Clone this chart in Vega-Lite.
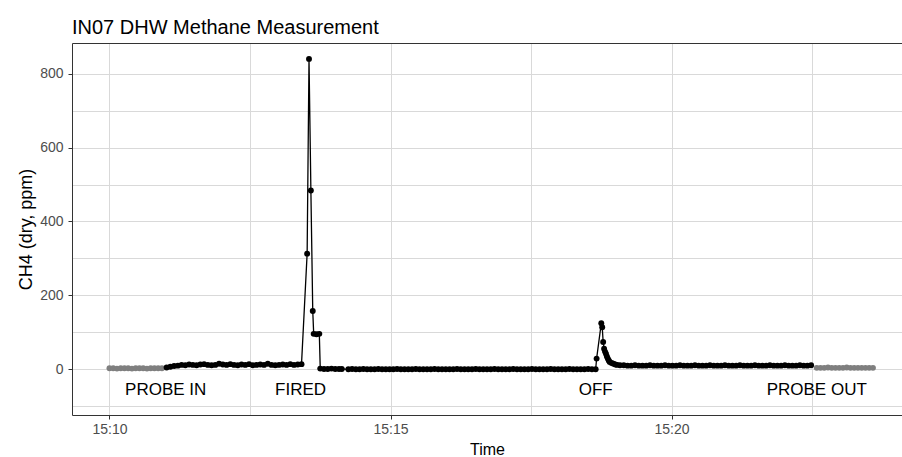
{
  "$schema": "https://vega.github.io/schema/vega-lite/v6.json",
  "width": 830,
  "height": 372,
  "autosize": {"type": "none"},
  "padding": {"left": 72, "top": 43, "right": 0, "bottom": 42},
  "background": "white",
  "view": {"stroke": null},
  "title": {"text": "IN07 DHW Methane Measurement", "anchor": "start", "frame": "group", "fontSize": 20, "fontWeight": "normal", "font": "Liberation Sans", "color": "#000000", "offset": -2},
  "config": {"view": {"stroke": null}, "font": "Liberation Sans"},
  "data": {
    "format": {"parse": {"t": "date:'%H:%M:%S'"}},
    "values": [
      {"t":"15:11:00","v":-57,"label":"PROBE IN"},
      {"t":"15:13:24","v":-57,"label":"FIRED"},
      {"t":"15:18:39","v":-57,"label":"OFF"},
      {"t":"15:22:35","v":-57,"label":"PROBE OUT"},
      {"t":"15:10:00","v":3,"s":"a"},{"t":"15:10:04","v":3,"s":"a"},{"t":"15:10:08","v":2,"s":"a"},{"t":"15:10:12","v":3,"s":"a"},{"t":"15:10:16","v":3,"s":"a"},{"t":"15:10:20","v":3,"s":"a"},{"t":"15:10:24","v":2,"s":"a"},{"t":"15:10:28","v":3,"s":"a"},{"t":"15:10:32","v":3,"s":"a"},{"t":"15:10:36","v":3,"s":"a"},{"t":"15:10:40","v":2,"s":"a"},{"t":"15:10:44","v":3,"s":"a"},{"t":"15:10:48","v":3,"s":"a"},{"t":"15:10:52","v":3,"s":"a"},{"t":"15:10:56","v":3,"s":"a"},
      {"t":"15:11:01","v":5,"s":"b"},{"t":"15:11:05","v":7,"s":"b"},{"t":"15:11:09","v":9,"s":"b"},{"t":"15:11:13","v":10,"s":"b"},{"t":"15:11:17","v":12,"s":"b"},{"t":"15:11:21","v":11,"s":"b"},{"t":"15:11:25","v":13,"s":"b"},{"t":"15:11:29","v":12,"s":"b"},{"t":"15:11:33","v":11,"s":"b"},{"t":"15:11:37","v":13,"s":"b"},{"t":"15:11:41","v":14,"s":"b"},{"t":"15:11:45","v":12,"s":"b"},{"t":"15:11:49","v":11,"s":"b"},{"t":"15:11:53","v":12,"s":"b"},{"t":"15:11:57","v":15,"s":"b"},{"t":"15:12:01","v":13,"s":"b"},{"t":"15:12:05","v":12,"s":"b"},{"t":"15:12:09","v":14,"s":"b"},{"t":"15:12:13","v":12,"s":"b"},{"t":"15:12:17","v":11,"s":"b"},{"t":"15:12:21","v":13,"s":"b"},{"t":"15:12:25","v":12,"s":"b"},{"t":"15:12:29","v":14,"s":"b"},{"t":"15:12:33","v":11,"s":"b"},{"t":"15:12:37","v":12,"s":"b"},{"t":"15:12:41","v":13,"s":"b"},{"t":"15:12:45","v":12,"s":"b"},{"t":"15:12:49","v":15,"s":"b"},{"t":"15:12:53","v":12,"s":"b"},{"t":"15:12:57","v":11,"s":"b"},{"t":"15:13:01","v":12,"s":"b"},{"t":"15:13:05","v":13,"s":"b"},{"t":"15:13:09","v":12,"s":"b"},{"t":"15:13:13","v":14,"s":"b"},{"t":"15:13:17","v":12,"s":"b"},{"t":"15:13:21","v":13,"s":"b"},{"t":"15:13:25","v":14,"s":"b"},
      {"t":"15:13:31","v":313,"s":"b"},{"t":"15:13:33","v":840,"s":"b"},{"t":"15:13:35","v":484,"s":"b"},{"t":"15:13:37","v":158,"s":"b"},{"t":"15:13:38","v":96,"s":"b"},{"t":"15:13:41","v":95,"s":"b"},{"t":"15:13:44","v":96,"s":"b"},
      {"t":"15:13:45","v":2,"s":"b"},{"t":"15:13:49","v":1,"s":"b"},{"t":"15:13:53","v":1,"s":"b"},{"t":"15:13:57","v":2,"s":"b"},{"t":"15:14:01","v":1,"s":"b"},{"t":"15:14:05","v":1,"s":"b"},{"t":"15:14:08","v":1,"s":"b"},
      {"t":"15:14:15","v":0,"s":"b"},{"t":"15:14:19","v":1,"s":"b"},{"t":"15:14:23","v":0,"s":"b"},{"t":"15:14:27","v":0,"s":"b"},{"t":"15:14:31","v":1,"s":"b"},{"t":"15:14:35","v":0,"s":"b"},{"t":"15:14:39","v":0,"s":"b"},{"t":"15:14:43","v":0,"s":"b"},{"t":"15:14:47","v":1,"s":"b"},{"t":"15:14:51","v":0,"s":"b"},{"t":"15:14:55","v":0,"s":"b"},{"t":"15:14:59","v":0,"s":"b"},
      {"t":"15:15:03","v":0,"s":"b"},{"t":"15:15:07","v":1,"s":"b"},{"t":"15:15:11","v":0,"s":"b"},{"t":"15:15:15","v":0,"s":"b"},{"t":"15:15:19","v":0,"s":"b"},{"t":"15:15:23","v":0,"s":"b"},{"t":"15:15:27","v":1,"s":"b"},{"t":"15:15:31","v":0,"s":"b"},{"t":"15:15:35","v":0,"s":"b"},{"t":"15:15:39","v":0,"s":"b"},{"t":"15:15:43","v":0,"s":"b"},{"t":"15:15:47","v":1,"s":"b"},{"t":"15:15:51","v":0,"s":"b"},{"t":"15:15:55","v":0,"s":"b"},{"t":"15:15:59","v":0,"s":"b"},
      {"t":"15:16:03","v":0,"s":"b"},{"t":"15:16:07","v":0,"s":"b"},{"t":"15:16:11","v":1,"s":"b"},{"t":"15:16:15","v":0,"s":"b"},{"t":"15:16:19","v":0,"s":"b"},{"t":"15:16:23","v":0,"s":"b"},{"t":"15:16:27","v":0,"s":"b"},{"t":"15:16:31","v":1,"s":"b"},{"t":"15:16:35","v":0,"s":"b"},{"t":"15:16:39","v":0,"s":"b"},{"t":"15:16:43","v":0,"s":"b"},{"t":"15:16:47","v":0,"s":"b"},{"t":"15:16:51","v":1,"s":"b"},{"t":"15:16:55","v":0,"s":"b"},{"t":"15:16:59","v":0,"s":"b"},
      {"t":"15:17:03","v":0,"s":"b"},{"t":"15:17:07","v":0,"s":"b"},{"t":"15:17:11","v":1,"s":"b"},{"t":"15:17:15","v":0,"s":"b"},{"t":"15:17:19","v":0,"s":"b"},{"t":"15:17:23","v":0,"s":"b"},{"t":"15:17:27","v":0,"s":"b"},{"t":"15:17:31","v":1,"s":"b"},{"t":"15:17:35","v":0,"s":"b"},{"t":"15:17:39","v":0,"s":"b"},{"t":"15:17:43","v":0,"s":"b"},{"t":"15:17:47","v":0,"s":"b"},{"t":"15:17:51","v":1,"s":"b"},{"t":"15:17:55","v":0,"s":"b"},{"t":"15:17:59","v":0,"s":"b"},
      {"t":"15:18:03","v":0,"s":"b"},{"t":"15:18:07","v":0,"s":"b"},{"t":"15:18:11","v":1,"s":"b"},{"t":"15:18:15","v":0,"s":"b"},{"t":"15:18:19","v":0,"s":"b"},{"t":"15:18:23","v":0,"s":"b"},{"t":"15:18:27","v":0,"s":"b"},{"t":"15:18:31","v":1,"s":"b"},{"t":"15:18:35","v":0,"s":"b"},{"t":"15:18:39","v":0,"s":"b"},
      {"t":"15:18:40","v":29,"s":"b"},{"t":"15:18:45","v":125,"s":"b"},{"t":"15:18:46","v":114,"s":"b"},{"t":"15:18:47","v":74,"s":"b"},{"t":"15:18:48","v":56,"s":"b"},{"t":"15:18:49","v":48,"s":"b"},{"t":"15:18:50","v":42,"s":"b"},{"t":"15:18:51","v":35,"s":"b"},{"t":"15:18:52","v":29,"s":"b"},{"t":"15:18:53","v":24,"s":"b"},{"t":"15:18:54","v":20,"s":"b"},{"t":"15:18:56","v":17,"s":"b"},{"t":"15:18:58","v":15,"s":"b"},{"t":"15:19:00","v":13,"s":"b"},{"t":"15:19:02","v":12,"s":"b"},{"t":"15:19:05","v":11,"s":"b"},
      {"t":"15:19:09","v":11,"s":"b"},{"t":"15:19:13","v":10,"s":"b"},{"t":"15:19:17","v":10,"s":"b"},{"t":"15:19:21","v":11,"s":"b"},{"t":"15:19:25","v":10,"s":"b"},{"t":"15:19:29","v":10,"s":"b"},{"t":"15:19:33","v":10,"s":"b"},{"t":"15:19:37","v":11,"s":"b"},{"t":"15:19:41","v":10,"s":"b"},{"t":"15:19:45","v":10,"s":"b"},{"t":"15:19:49","v":10,"s":"b"},{"t":"15:19:53","v":11,"s":"b"},{"t":"15:19:57","v":10,"s":"b"},
      {"t":"15:20:01","v":10,"s":"b"},{"t":"15:20:05","v":10,"s":"b"},{"t":"15:20:09","v":11,"s":"b"},{"t":"15:20:13","v":10,"s":"b"},{"t":"15:20:17","v":10,"s":"b"},{"t":"15:20:21","v":10,"s":"b"},{"t":"15:20:25","v":11,"s":"b"},{"t":"15:20:29","v":10,"s":"b"},{"t":"15:20:33","v":10,"s":"b"},{"t":"15:20:37","v":10,"s":"b"},{"t":"15:20:41","v":11,"s":"b"},{"t":"15:20:45","v":10,"s":"b"},{"t":"15:20:49","v":10,"s":"b"},{"t":"15:20:53","v":10,"s":"b"},{"t":"15:20:57","v":11,"s":"b"},
      {"t":"15:21:01","v":10,"s":"b"},{"t":"15:21:05","v":10,"s":"b"},{"t":"15:21:09","v":10,"s":"b"},{"t":"15:21:13","v":11,"s":"b"},{"t":"15:21:17","v":10,"s":"b"},{"t":"15:21:21","v":10,"s":"b"},{"t":"15:21:25","v":10,"s":"b"},{"t":"15:21:29","v":11,"s":"b"},{"t":"15:21:33","v":10,"s":"b"},{"t":"15:21:37","v":10,"s":"b"},{"t":"15:21:41","v":10,"s":"b"},{"t":"15:21:45","v":11,"s":"b"},{"t":"15:21:49","v":10,"s":"b"},{"t":"15:21:53","v":10,"s":"b"},{"t":"15:21:57","v":10,"s":"b"},
      {"t":"15:22:01","v":11,"s":"b"},{"t":"15:22:05","v":10,"s":"b"},{"t":"15:22:09","v":10,"s":"b"},{"t":"15:22:13","v":10,"s":"b"},{"t":"15:22:17","v":11,"s":"b"},{"t":"15:22:21","v":10,"s":"b"},{"t":"15:22:25","v":10,"s":"b"},{"t":"15:22:29","v":11,"s":"b"},
      {"t":"15:22:35","v":4,"s":"c"},{"t":"15:22:39","v":4,"s":"c"},{"t":"15:22:43","v":4,"s":"c"},{"t":"15:22:47","v":5,"s":"c"},{"t":"15:22:51","v":4,"s":"c"},{"t":"15:22:55","v":4,"s":"c"},{"t":"15:22:59","v":4,"s":"c"},{"t":"15:23:03","v":4,"s":"c"},{"t":"15:23:07","v":5,"s":"c"},{"t":"15:23:11","v":4,"s":"c"},{"t":"15:23:15","v":4,"s":"c"},{"t":"15:23:19","v":4,"s":"c"},{"t":"15:23:23","v":4,"s":"c"},{"t":"15:23:27","v":4,"s":"c"},{"t":"15:23:31","v":4,"s":"c"},{"t":"15:23:35","v":4,"s":"c"}
    ]
  },
  "encoding": {
    "x": {
      "field": "t", "type": "temporal",
      "scale": {"domain": [{"year":1900,"month":1,"date":1,"hours":15,"minutes":9,"seconds":20},{"year":1900,"month":1,"date":1,"hours":15,"minutes":24,"seconds":6}], "nice": false},
      "axis": {
        "values": [
          {"year":1900,"month":1,"date":1,"hours":15,"minutes":10,"seconds":0},
          {"year":1900,"month":1,"date":1,"hours":15,"minutes":12,"seconds":30},
          {"year":1900,"month":1,"date":1,"hours":15,"minutes":15,"seconds":0},
          {"year":1900,"month":1,"date":1,"hours":15,"minutes":17,"seconds":30},
          {"year":1900,"month":1,"date":1,"hours":15,"minutes":20,"seconds":0},
          {"year":1900,"month":1,"date":1,"hours":15,"minutes":22,"seconds":30}
        ],
        "labelExpr": "seconds(datum.value) == 0 ? timeFormat(datum.value, '%H:%M') : ''",
        "labelOverlap": false,
        "labelFontSize": 14, "labelColor": "#4d4d4d", "labelPadding": 3, "labelFont": "Liberation Sans",
        "tickSize": 4, "tickColor": "#333333", "tickWidth": 1,
        "tickOpacity": {"condition": {"test": "seconds(datum.value) != 0", "value": 0}, "value": 1},
        "domainColor": "#333333", "domainWidth": 1,
        "gridColor": "#d9d9d9", "gridWidth": 1,
        "title": "Time", "titleFontSize": 16, "titleFontWeight": "normal", "titleColor": "#000000", "titlePadding": 5, "titleFont": "Liberation Sans"
      }
    },
    "y": {
      "field": "v", "type": "quantitative",
      "scale": {"domain": [-123.6, 883], "nice": false, "zero": false},
      "axis": {
        "values": [-100, 0, 100, 200, 300, 400, 500, 600, 700, 800, 883],
        "labelExpr": "datum.value % 200 == 0 ? datum.label : ''",
        "labelOverlap": false,
        "labelFontSize": 14, "labelColor": "#4d4d4d", "labelPadding": 5, "labelFont": "Liberation Sans",
        "tickSize": 4, "tickColor": "#333333", "tickWidth": 1,
        "tickOpacity": {"condition": {"test": "datum.value % 200 != 0", "value": 0}, "value": 1},
        "domainColor": "#333333", "domainWidth": 1,
        "gridColor": {"condition": {"test": "datum.value > 850", "value": "#333333"}, "value": "#d9d9d9"},
        "gridWidth": 1,
        "title": "CH4 (dry, ppm)", "titleFontSize": 18, "titleFontWeight": "normal", "titleColor": "#000000", "titlePadding": 4, "titleFont": "Liberation Sans"
      }
    }
  },
  "layer": [
    {
      "transform": [{"filter": "isValid(datum.s)"}],
      "mark": {"type": "line", "strokeWidth": 1.3, "point": {"filled": true, "size": 35, "opacity": 1}},
      "encoding": {
        "color": {"field": "s", "type": "nominal", "scale": {"domain": ["a", "b", "c"], "range": ["#7f7f7f", "#000000", "#7f7f7f"]}, "legend": null}
      }
    },
    {
      "transform": [{"filter": "isValid(datum.label)"}],
      "mark": {"type": "text", "fontSize": 17, "font": "Liberation Sans", "color": "#000000", "align": "center", "baseline": "middle"},
      "encoding": {
        "text": {"field": "label", "type": "nominal"}
      }
    }
  ]
}
